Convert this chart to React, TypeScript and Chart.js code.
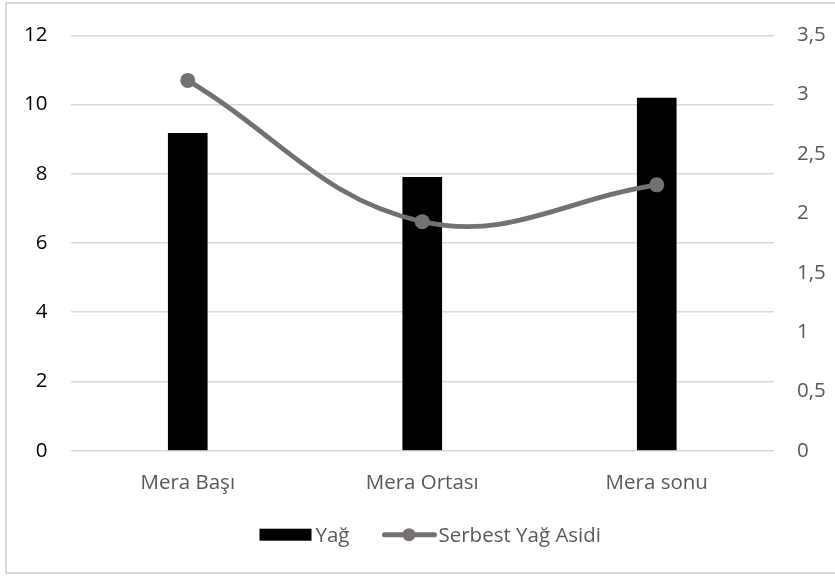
import { useEffect, useRef } from "react";
import { Chart, registerables } from "chart.js";

Chart.register(...registerables);

// Data
const categories = ["Mera Başı", "Mera Ortası", "Mera sonu"];
const yagValues = [9.17, 7.9, 10.19];
const serbestYagAsidiValues = [3.12, 1.93, 2.24];
const leftTicks = [0, 2, 4, 6, 8, 10, 12];
const rightTicks = [0, 0.5, 1, 1.5, 2, 2.5, 3, 3.5];
const rightTickLabels = ["0", "0,5", "1", "1,5", "2", "2,5", "3", "3,5"];

const FONT = "'Open Sans', 'Noto Sans', sans-serif";
const FONT_SIZE = 20.5;
const BAR_COLOR = "#000000";
const LINE_COLOR = "#767171";
const TEXT_GRAY = "#595959";
const GRID = "#d9d9d9";

// Legend drawn under the x axis: a bar swatch and a line-with-marker swatch
const bottomLegend = {
  id: "bottomLegend",
  afterDraw(chart: any) {
    const ctx = chart.ctx as CanvasRenderingContext2D;
    const barDs = chart.data.datasets.find((d: any) => d.type === "bar");
    const lineDs = chart.data.datasets.find((d: any) => d.type === "line");
    const items = [
      { kind: "bar", label: barDs.label, color: barDs.backgroundColor },
      { kind: "line", label: lineDs.label, color: lineDs.borderColor },
    ];
    const swatchW = 53;
    const textGap = 3;
    const itemGap = 33;
    ctx.save();
    ctx.font = `${FONT_SIZE}px ${FONT}`;
    ctx.textBaseline = "middle";
    ctx.textAlign = "left";
    const widths = items.map((it) => swatchW + textGap + ctx.measureText(it.label).width);
    const total = widths.reduce((a, b) => a + b, 0) + itemGap * (items.length - 1);
    const centerX = (chart.chartArea.left + chart.chartArea.right) / 2 + 8;
    const cy = chart.chartArea.bottom + 84;
    let x = centerX - total / 2;
    items.forEach((it, i) => {
      if (it.kind === "bar") {
        ctx.fillStyle = it.color;
        ctx.fillRect(x, cy - 6, 52, 12);
      } else {
        ctx.strokeStyle = it.color;
        ctx.lineWidth = 5;
        ctx.lineCap = "round";
        ctx.beginPath();
        ctx.moveTo(x + 2, cy);
        ctx.lineTo(x + swatchW - 1, cy);
        ctx.stroke();
        ctx.fillStyle = it.color;
        ctx.beginPath();
        ctx.arc(x + swatchW / 2, cy, 6.5, 0, Math.PI * 2);
        ctx.fill();
      }
      ctx.fillStyle = TEXT_GRAY;
      ctx.fillText(it.label, x + swatchW + textGap, cy + 1);
      x += widths[i] + itemGap;
    });
    ctx.restore();
  },
};

export default function App() {
  const canvasRef = useRef<HTMLCanvasElement | null>(null);

  useEffect(() => {
    const canvas = canvasRef.current;
    if (!canvas) return;

    const chart = new Chart(canvas, {
      type: "bar",
      data: {
        labels: categories,
        datasets: [
          {
            type: "line",
            label: "Serbest Yağ Asidi",
            data: serbestYagAsidiValues,
            yAxisID: "y1",
            borderColor: LINE_COLOR,
            backgroundColor: LINE_COLOR,
            borderWidth: 4.8,
            tension: 0.4,
            pointRadius: 7.5,
            pointBorderWidth: 0,
            pointBackgroundColor: LINE_COLOR,
            order: 0,
          } as any,
          {
            type: "bar",
            label: "Yağ",
            data: yagValues,
            yAxisID: "y",
            backgroundColor: BAR_COLOR,
            barThickness: 39,
            order: 1,
          },
        ],
      },
      options: {
        responsive: false,
        animation: false,
        layout: { padding: { top: 31.7, left: 25, right: 0, bottom: 0 } },
        plugins: {
          tooltip: { enabled: false },
          legend: { display: false },
        },
        scales: {
          x: {
            grid: { display: false, drawTicks: false },
            border: { display: false },
            ticks: {
              color: TEXT_GRAY,
              font: { family: FONT, size: FONT_SIZE },
              padding: 20.5,
            },
            afterFit: (axis: any) => {
              axis.height = 125.3;
            },
          },
          y: {
            position: "left",
            min: 0,
            max: 12,
            afterBuildTicks: (axis: any) => {
              axis.ticks = leftTicks.map((v) => ({ value: v }));
            },
            grid: { color: GRID, lineWidth: 1.6, drawTicks: false },
            border: { display: false },
            ticks: {
              color: "#000000",
              font: { family: FONT, size: FONT_SIZE },
              padding: 23,
            },
            afterFit: (axis: any) => {
              axis.width = 45.5;
            },
          },
          y1: {
            position: "right",
            min: 0,
            max: 3.5,
            afterBuildTicks: (axis: any) => {
              axis.ticks = rightTicks.map((v) => ({ value: v }));
            },
            grid: { display: false, drawTicks: false },
            border: { display: false },
            ticks: {
              color: TEXT_GRAY,
              font: { family: FONT, size: FONT_SIZE },
              padding: 23,
              callback: (value: any) => {
                const idx = rightTicks.indexOf(Number(value));
                return idx >= 0 ? rightTickLabels[idx] : String(value);
              },
            },
            afterFit: (axis: any) => {
              axis.width = 61;
            },
          },
        },
      },
      plugins: [bottomLegend],
    });

    return () => chart.destroy();
  }, []);

  return (
    <div
      style={{
        position: "fixed",
        left: 0,
        top: 0,
        width: 835,
        height: 576,
        background: "#ffffff",
        overflow: "hidden",
      }}
    >
      <div
        style={{
          position: "absolute",
          left: 5,
          top: 2,
          width: 840,
          height: 572,
          boxSizing: "border-box",
          border: "2px solid #d9d9d9",
        }}
      />
      <canvas
        ref={canvasRef}
        width={835}
        height={576}
        style={{ position: "absolute", left: 0, top: 0, width: 835, height: 576 }}
      />
    </div>
  );
}
